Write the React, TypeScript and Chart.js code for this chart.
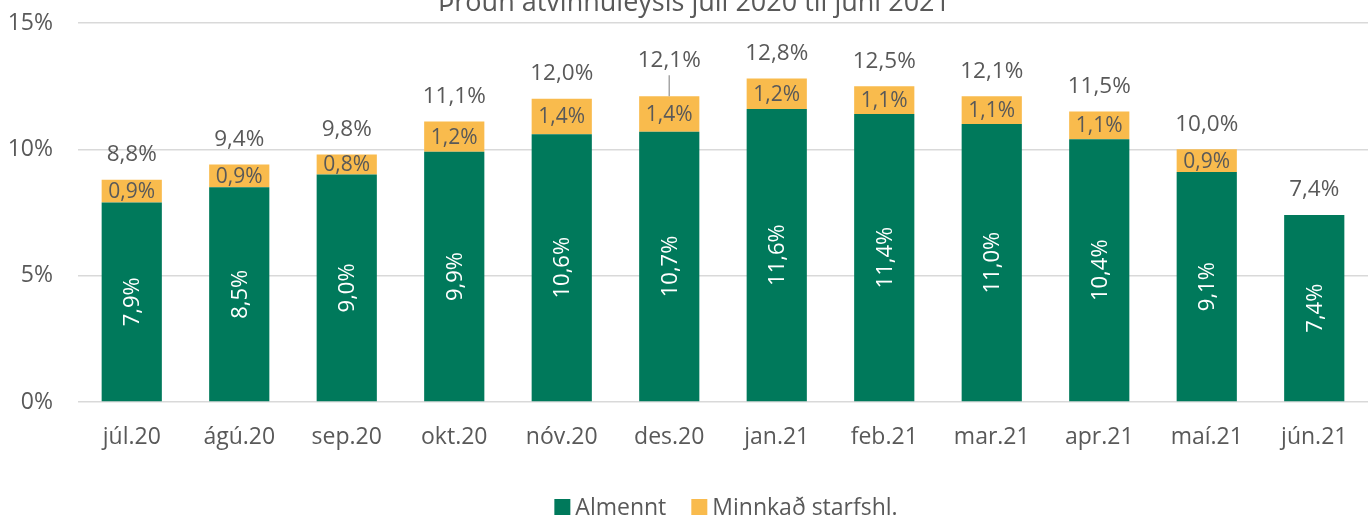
import React, { useEffect, useRef } from "react";
import { Chart, registerables } from "chart.js";

Chart.register(...registerables);

const categories = ["júl.20", "ágú.20", "sep.20", "okt.20", "nóv.20", "des.20", "jan.21", "feb.21", "mar.21", "apr.21", "maí.21", "jún.21"];
const almennt = [7.9, 8.5, 9.0, 9.9, 10.6, 10.7, 11.6, 11.4, 11.0, 10.4, 9.1, 7.4];
const minnkad = [0.9, 0.9, 0.8, 1.2, 1.4, 1.4, 1.2, 1.1, 1.1, 1.1, 0.9, 0];
const totals = [8.8, 9.4, 9.8, 11.1, 12.0, 12.1, 12.8, 12.5, 12.1, 11.5, 10.0, 7.4];
const yTicks = [0, 5, 10, 15];
const title = "Þróun atvinnuleysis júlí 2020 til júní 2021";

const GREEN = "#00795b";
const YELLOW = "#f9bb4d";
const GREY = "#595959";
const FONT = "'Open Sans', 'Noto Sans', sans-serif";

const fmt = (v: number) => v.toFixed(1).replace(".", ",") + "%";

const labelPlugin = {
  id: "labels",
  afterDatasetsDraw(chart: any) {
    const ctx = chart.ctx;
    const yScale = chart.scales.y;
    const m0 = chart.getDatasetMeta(0).data;
    const m1 = chart.getDatasetMeta(1).data;
    ctx.save();
    ctx.textAlign = "center";
    ctx.textBaseline = "middle";
    // green rotated labels
    ctx.font = `22px ${FONT}`;
    ctx.fillStyle = "#ffffff";
    m0.forEach((el: any, i: number) => {
      const cy = (el.y + el.base) / 2;
      ctx.save();
      ctx.translate(el.x, cy);
      ctx.rotate(-Math.PI / 2);
      ctx.fillText(fmt(almennt[i]), 0, 1);
      ctx.restore();
    });
    // yellow labels
    ctx.font = `21px ${FONT}`;
    ctx.fillStyle = GREY;
    m1.forEach((el: any, i: number) => {
      if (!minnkad[i]) return;
      const cy = (el.y + el.base) / 2;
      ctx.fillText(fmt(minnkad[i]), el.x, cy + 1);
    });
    // totals
    ctx.font = `22.5px ${FONT}`;
    m0.forEach((el: any, i: number) => {
      const top = yScale.getPixelForValue(totals[i]);
      if (i === 5) {
        ctx.strokeStyle = "#a6a6a6";
        ctx.lineWidth = 1.5;
        ctx.beginPath();
        ctx.moveTo(el.x, top);
        ctx.lineTo(el.x, top - 21);
        ctx.stroke();
        ctx.fillText(fmt(totals[i]), el.x, top - 36);
      } else {
        ctx.fillText(fmt(totals[i]), el.x, top - 25);
      }
    });
    ctx.restore();
  },
  afterDraw(chart: any) {
    const ctx = chart.ctx;
    ctx.save();
    // title (partially cut off at top)
    ctx.font = `27px ${FONT}`;
    ctx.fillStyle = GREY;
    ctx.textAlign = "center";
    ctx.textBaseline = "alphabetic";
    ctx.fillText(title, chart.width / 2 + 8, 11);
    // legend
    ctx.font = `23px ${FONT}`;
    ctx.textBaseline = "middle";
    ctx.textAlign = "left";
    const box = 16, gapText = 5, gapItem = 25;
    const items = chart.data.datasets.map((d: any) => ({
      label: d.label,
      color: d.backgroundColor,
      w: box + gapText + ctx.measureText(d.label).width,
    }));
    const total = items.reduce((s: number, it: any) => s + it.w, 0) + gapItem * (items.length - 1);
    const ca = chart.chartArea;
    let x = (ca.left + ca.right) / 2 - total / 2 + 3;
    const cy = chart.height - 11;
    items.forEach((it: any) => {
      ctx.fillStyle = it.color;
      ctx.fillRect(x, cy - box / 2, box, box);
      ctx.fillStyle = GREY;
      ctx.fillText(it.label, x + box + gapText, cy + 1);
      x += it.w + gapItem;
    });
    ctx.restore();
  },
};

export default function App() {
  const ref = useRef<HTMLCanvasElement>(null);
  useEffect(() => {
    document.body.style.margin = "0";
    const chart = new Chart(ref.current!, {
      type: "bar",
      data: {
        labels: categories,
        datasets: [
          { label: "Almennt", data: almennt, backgroundColor: GREEN, borderWidth: 0 },
          { label: "Minnkað starfshl.", data: minnkad, backgroundColor: YELLOW, borderWidth: 0 },
        ],
      },
      options: {
        animation: false,
        responsive: false,
        layout: { padding: { top: 23, right: 4, left: 0, bottom: 52 } },
        datasets: { bar: { barPercentage: 0.56, categoryPercentage: 1 } },
        plugins: {
          title: { display: false },
          tooltip: { enabled: false },
          legend: { display: false },
        },
        scales: {
          x: {
            stacked: true,
            grid: { display: false },
            border: { display: false },
            ticks: { font: { family: FONT, size: 23 }, color: GREY, padding: 14 },
            afterFit: (s: any) => { s.height = 64; s.paddingLeft = 0; s.paddingRight = 0; },
          },
          y: {
            stacked: true,
            min: 0,
            max: 15,
            afterBuildTicks: (s: any) => { s.ticks = yTicks.map((v) => ({ value: v })); },
            grid: { color: "#d9d9d9", lineWidth: 1.5, drawTicks: false },
            border: { display: false },
            ticks: {
              font: { family: FONT, size: 23 },
              color: GREY,
              padding: 25,
              callback: (v: any) => v + "%",
            },
            afterFit: (s: any) => { s.width = 78; s.paddingTop = 0; s.paddingBottom = 0; },
          },
        },
      },
      plugins: [labelPlugin],
    });
    return () => chart.destroy();
  }, []);
  return <canvas ref={ref} width={1372} height={518} style={{ display: "block" }} />;
}
